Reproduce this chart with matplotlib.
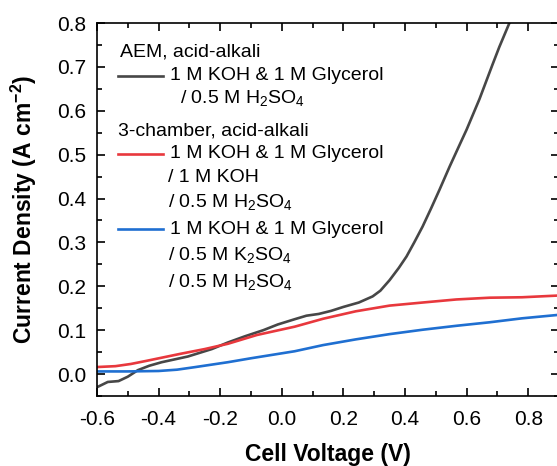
import matplotlib
matplotlib.use("Agg")
import matplotlib.pyplot as plt
from matplotlib.ticker import MultipleLocator

plt.rcParams['font.family'] = ['Liberation Sans', 'DejaVu Sans']
plt.rcParams['mathtext.fontset'] = 'custom'
plt.rcParams['mathtext.rm'] = 'Liberation Sans'
plt.rcParams['mathtext.bf'] = 'Liberation Sans:bold'

# AEM, acid-alkali
v_aem = [-0.60, -0.565, -0.53, -0.50, -0.467, -0.43, -0.39, -0.305, -0.227, -0.175,
         -0.12, -0.06, -0.013, 0.042, 0.08, 0.12, 0.16, 0.20, 0.25, 0.295,
         0.32, 0.35, 0.38, 0.405, 0.43, 0.457, 0.485, 0.512, 0.545, 0.577,
         0.60, 0.642, 0.684, 0.706, 0.739]
j_aem = [-0.030, -0.018, -0.016, -0.006, 0.009, 0.019, 0.027, 0.040, 0.057, 0.072,
         0.086, 0.100, 0.113, 0.125, 0.133, 0.137, 0.144, 0.153, 0.163, 0.177,
         0.190, 0.214, 0.242, 0.268, 0.300, 0.336, 0.378, 0.420, 0.473, 0.522,
         0.557, 0.627, 0.705, 0.745, 0.800]

# 3-chamber, KOH middle
v_koh = [-0.60, -0.54, -0.49, -0.44, -0.385, -0.33, -0.25, -0.175, -0.081, 0.042,
         0.134, 0.24, 0.35, 0.457, 0.567, 0.675, 0.78, 0.90]
j_koh = [0.016, 0.018, 0.023, 0.030, 0.038, 0.046, 0.057, 0.069, 0.089, 0.108,
         0.126, 0.143, 0.156, 0.163, 0.170, 0.174, 0.175, 0.179]

# 3-chamber, K2SO4 middle
v_k2so4 = [-0.60, -0.50, -0.40, -0.34, -0.28, -0.175, -0.10, 0.042, 0.134, 0.24,
           0.35, 0.457, 0.567, 0.675, 0.78, 0.90]
j_k2so4 = [0.006, 0.006, 0.007, 0.010, 0.016, 0.027, 0.036, 0.052, 0.066, 0.079,
           0.091, 0.101, 0.110, 0.118, 0.127, 0.135]

c_gray, c_red, c_blue = '#474747', '#e8383d', '#1f6fd1'

W, H = 557, 466
fig = plt.figure(figsize=(W / 100, H / 100), dpi=100)
L, R, T, B = 97, 559, 23, 396
ax = fig.add_axes([L / W, (H - B) / H, (R - L) / W, (B - T) / H])

ax.plot(v_aem, j_aem, color=c_gray, lw=1.9)
ax.plot(v_koh, j_koh, color=c_red, lw=1.9)
ax.plot(v_k2so4, j_k2so4, color=c_blue, lw=1.9)

ax.set_xlim(-0.6, 0.9)
ax.set_ylim(-0.05, 0.8)
ax.xaxis.set_minor_locator(MultipleLocator(0.1))
ax.yaxis.set_minor_locator(MultipleLocator(0.05))
ax.tick_params(which='both', direction='in', top=True, right=True, width=1.2)
ax.tick_params(which='major', length=6, labelsize=15)
ax.tick_params(which='minor', length=3.5)
ax.tick_params(axis='y', which='major', pad=8)
ax.tick_params(axis='x', which='major', pad=10)
ax.set_xticks([-0.6, -0.4, -0.2, 0.0, 0.2, 0.4, 0.6, 0.8])
ax.set_xticklabels(['-0.6', '-0.4', '-0.2', '0.0', '0.2', '0.4', '0.6', '0.8'])
ax.set_yticks([0.0, 0.1, 0.2, 0.3, 0.4, 0.5, 0.6, 0.7, 0.8])
ax.set_yticklabels(['0.0', '0.1', '0.2', '0.3', '0.4', '0.5', '0.6', '0.7', '0.8'])
for s in ax.spines.values():
    s.set_linewidth(1.2)

ax.set_xlabel('Cell Voltage (V)', fontsize=16.5, fontweight='bold')
ax.set_ylabel(r'Current Density (A cm$^{\mathbf{-2}}$)', fontsize=16.5,
              fontweight='bold')
ax.xaxis.set_label_coords(0.5, (B - 455) / (B - T))
ax.xaxis.label.set_va('center')
ax.yaxis.set_label_coords((24 - L) / (R - L), 0.5)
ax.yaxis.label.set_va('center')


def px(x, y):
    return ((x - L) / (R - L), (B - y) / (B - T))


fs = 14
entries = [
    (120, 52, 'AEM, acid-alkali', None),
    (170, 76, '1 M KOH & 1 M Glycerol', c_gray),
    (180, 99, r'/ 0.5 M H$_2$SO$_4$', None),
    (118, 131, '3-chamber, acid-alkali', None),
    (170, 154, '1 M KOH & 1 M Glycerol', c_red),
    (168, 177, '/ 1 M KOH', None),
    (168, 203, r'/ 0.5 M H$_2$SO$_4$', None),
    (170, 229, '1 M KOH & 1 M Glycerol', c_blue),
    (168, 256, r'/ 0.5 M K$_2$SO$_4$', None),
    (168, 283, r'/ 0.5 M H$_2$SO$_4$', None),
]
for x, y, txt, col in entries:
    ax.text(*px(x, y), txt, transform=ax.transAxes, fontsize=fs,
            va='center', ha='left')
    if col is not None:
        x0, y0 = px(118, y)
        x1, _ = px(163, y)
        ax.plot([x0, x1], [y0, y0], transform=ax.transAxes, color=col, lw=1.9)

fig.savefig('out.png', dpi=100)
